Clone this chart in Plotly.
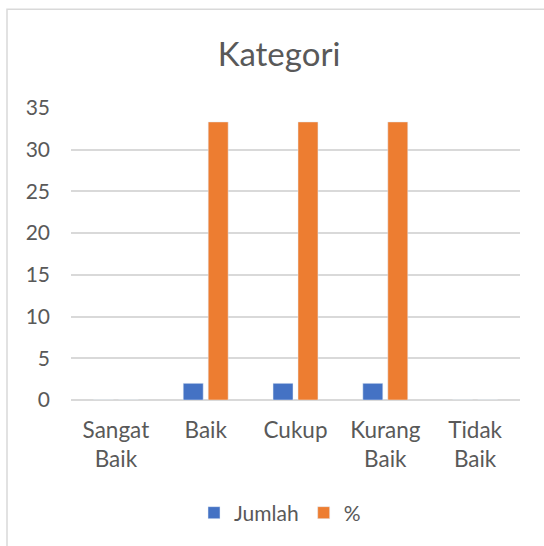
import plotly.graph_objects as go

categories = ["Sangat<br>Baik", "Baik", "Cukup", "Kurang<br>Baik", "Tidak<br>Baik"]
jumlah = [0, 2, 2, 2, 0]
persen = [0, 33.33, 33.33, 33.33, 0]
y_ticks = [0, 5, 10, 15, 20, 25, 30, 35]

W, H = 544, 546
L, R, T, B = 71, 24, 107.5, 146
pw = W - L - R
ph = H - T - B

FONT = "Lato, Calibri, sans-serif"
TXT = "#595959"

fig = go.Figure()
fig.add_trace(go.Bar(name="Jumlah", x=categories, y=jumlah, marker_color="#4472C4"))
fig.add_trace(go.Bar(name="%", x=categories, y=persen, marker_color="#ED7D31"))

fig.update_layout(
    width=W, height=H,
    margin=dict(l=L, r=R, t=T, b=B, pad=0, autoexpand=False),
    paper_bgcolor="white", plot_bgcolor="white",
    barmode="group", bargap=0.444, bargroupgap=0.2,
    font=dict(family=FONT, color=TXT, size=20),
    title=dict(text="Kategori", x=279 / W, xanchor="center", xref="container",
               y=1 - 54 / H, yanchor="middle", yref="container",
               font=dict(family=FONT, size=33, color=TXT)),
    legend=dict(orientation="h", x=280 / W, xanchor="center", xref="container",
                y=1 - 513 / H, yanchor="middle", yref="container",
                font=dict(family=FONT, size=21, color=TXT),
                itemwidth=30, tracegroupgap=0),
    showlegend=True,
)
fig.update_yaxes(range=[0, 35], tickvals=y_ticks, showgrid=True, gridcolor="#d9d9d9",
                 gridwidth=1.5, zeroline=True, zerolinecolor="#d9d9d9", zerolinewidth=1.5,
                 showline=False, ticks="", ticklabelstandoff=20, automargin=False,
                 tickfont=dict(family=FONT, size=21, color=TXT))
fig.update_xaxes(showgrid=False, showline=False, ticks="", automargin=False,
                 ticklabelstandoff=14,
                 tickfont=dict(family=FONT, size=22.5, color=TXT))

# chart border (Excel chart area frame)
fig.add_shape(type="rect", xref="paper", yref="paper",
              x0=(7 - L) / pw, x1=(600 - L) / pw,
              y0=(H - B - 600) / ph, y1=(H - B - 8.5) / ph,
              line=dict(color="#d9d9d9", width=1.5), fillcolor="rgba(0,0,0,0)", layer="below")

fig.write_html("out.html", config={"displayModeBar": False},
               post_script="document.body.style.margin='0';document.body.style.overflow='hidden';")
